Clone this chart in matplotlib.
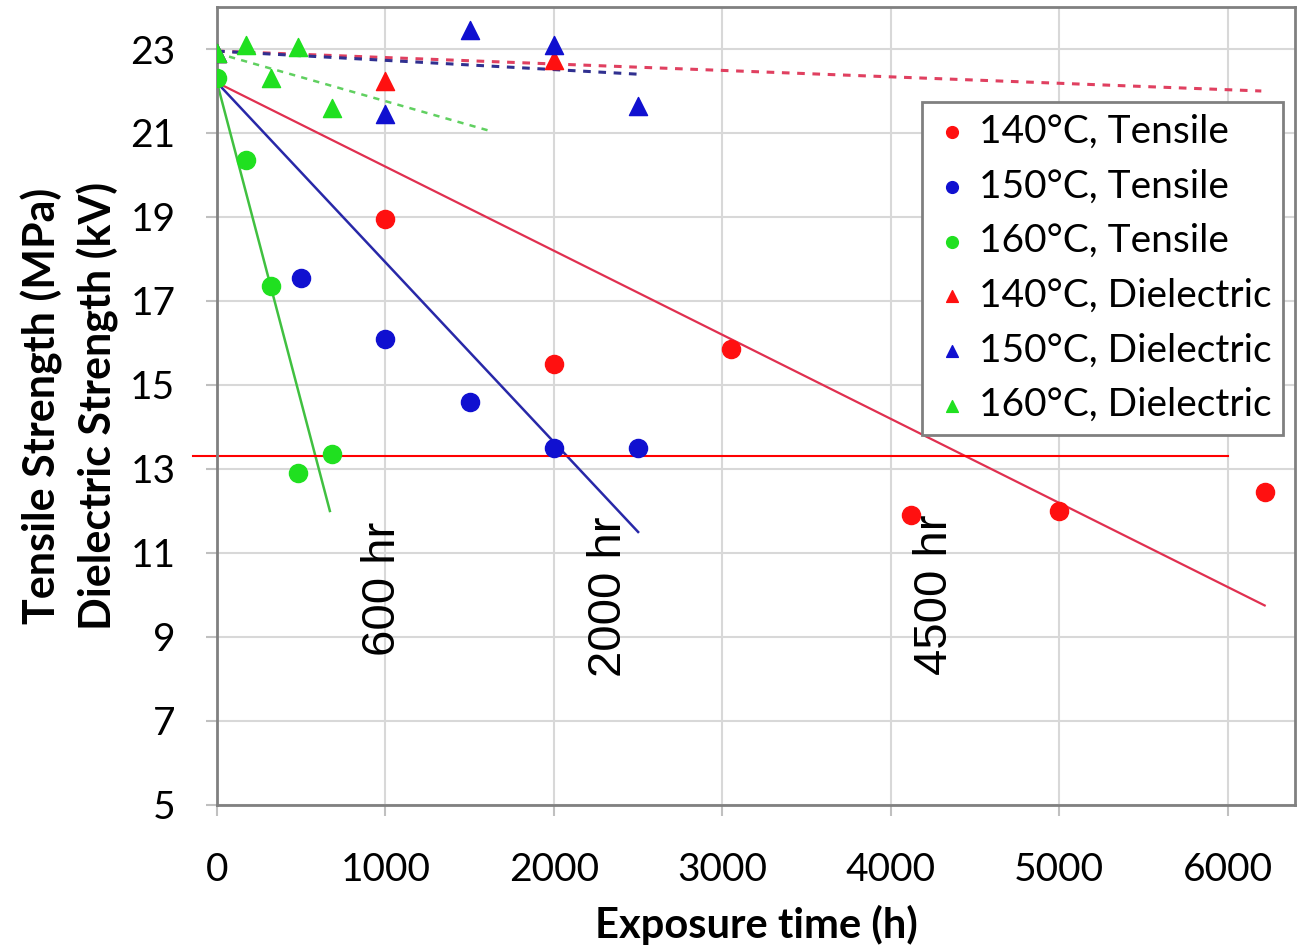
import matplotlib
matplotlib.use("Agg")
import matplotlib.pyplot as plt

RED = "#ff1010"
BLUE = "#1010d0"
GREEN = "#20e020"

# tensile strength points (h, MPa)
t140_x = [1000, 2000, 3050, 4120, 5000, 6220]
t140_y = [18.95, 15.5, 15.85, 11.9, 12.0, 12.45]
t150_x = [500, 1000, 1500, 2000, 2500]
t150_y = [17.55, 16.1, 14.6, 13.5, 13.5]
t160_x = [0, 170, 320, 480, 680]
t160_y = [22.3, 20.35, 17.35, 12.9, 13.35]

# dielectric strength points (h, kV)
d140_x = [0, 1000, 2000]
d140_y = [22.9, 22.25, 22.75]
d150_x = [0, 1000, 1500, 2000, 2500]
d150_y = [22.9, 21.45, 23.45, 23.1, 21.65]
d160_x = [0, 170, 320, 480, 680]
d160_y = [22.9, 23.1, 22.3, 23.05, 21.6]

# trend lines, (x start, x end), (y start, y end)
fit_t140 = ([0, 6220], [22.2, 9.75])
fit_t150 = ([0, 2500], [22.2, 11.5])
fit_t160 = ([0, 670], [22.2, 12.0])
fit_d140 = ([0, 6200], [22.95, 22.0])
fit_d150 = ([0, 2500], [22.95, 22.4])
fit_d160 = ([0, 1620], [22.9, 21.05])

limit_y = 13.3
limit_x = [-140, 6000]

notes = ["600 hr", "2000 hr", "4500 hr"]
notes_x = [985, 2330, 4260]
notes_y = [10.15, 9.95, 10.0]

xticks = [0, 1000, 2000, 3000, 4000, 5000, 6000]
yticks = [5, 7, 9, 11, 13, 15, 17, 19, 21, 23]

plt.rcParams["font.family"] = ["Lato", "DejaVu Sans"]

fig = plt.figure(figsize=(13.09, 9.47), dpi=100)
ax = fig.add_axes([0.1658, 0.150, 0.8235, 0.8426])

ax.plot(*fit_t140, color="#e03050", lw=1.6)
ax.plot(*fit_t150, color="#2828a8", lw=1.8)
ax.plot(*fit_t160, color="#40c040", lw=1.8)
ax.plot(*fit_d140, color="#e04060", lw=2.2, ls=(0, (2.5, 2.5)))
ax.plot(*fit_d150, color="#303090", lw=2.2, ls=(0, (2.5, 2.5)))
ax.plot(*fit_d160, color="#60d060", lw=1.8, ls=(0, (2.5, 2.5)))
ax.plot(limit_x, [limit_y, limit_y], color="red", lw=1.5, clip_on=False)

ms = 170
ax.scatter(t140_x, t140_y, s=ms, color=RED, marker="o", label="140°C, Tensile", zorder=3)
ax.scatter(t150_x, t150_y, s=ms, color=BLUE, marker="o", label="150°C, Tensile", zorder=3)
ax.scatter(t160_x, t160_y, s=ms, color=GREEN, marker="o", label="160°C, Tensile", zorder=3)
ax.scatter(d140_x, d140_y, s=ms, color=RED, marker="^", label="140°C, Dielectric", zorder=3)
ax.scatter(d150_x, d150_y, s=ms, color=BLUE, marker="^", label="150°C, Dielectric", zorder=3)
ax.scatter(d160_x, d160_y, s=ms, color=GREEN, marker="^", label="160°C, Dielectric", zorder=3)

for txt, tx, ty in zip(notes, notes_x, notes_y):
    ax.text(tx, ty, txt, rotation=90, ha="center", va="center",
            fontsize=34, family="Liberation Sans")

ax.set_xlim(0, 6400)
ax.set_ylim(5, 24)
ax.set_xticks(xticks)
ax.set_yticks(yticks)
ax.grid(True, color="#d8d8d8", lw=1.5)
ax.set_axisbelow(True)
for sp in ax.spines.values():
    sp.set_color("#808080")
    sp.set_linewidth(2)
ax.tick_params(axis="both", direction="out", length=8, width=1.5,
               color="#c0c0c0", labelsize=28, pad=26)
ax.tick_params(axis="y", pad=22)

ax.set_xlabel("Exposure time (h)", fontsize=30, fontweight="bold", labelpad=12)
ax.set_ylabel("Tensile Strength (MPa)\nDielectric Strength (kV)", fontsize=31,
              fontweight="bold", labelpad=8, linespacing=1.4)

leg = ax.legend(loc="upper right", bbox_to_anchor=(0.989, 0.881), fontsize=28,
                frameon=True, fancybox=False, edgecolor="#808080", framealpha=1,
                handletextpad=0.25, borderpad=0.3, labelspacing=0.48,
                handlelength=0.9, scatterpoints=1, markerscale=0.65,
                borderaxespad=0)
leg.get_frame().set_linewidth(2)

fig.savefig("out.png", dpi=100)
